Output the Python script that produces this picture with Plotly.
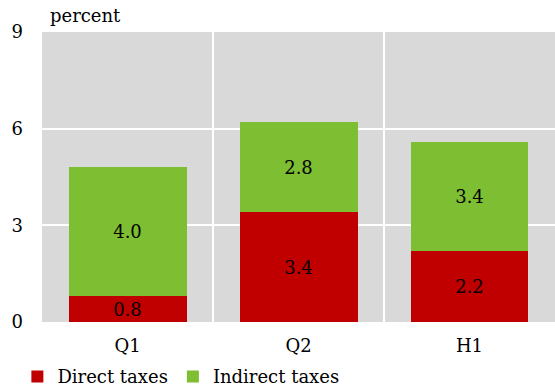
import plotly.graph_objects as go

categories = ["Q1", "Q2", "H1"]
direct = [0.8, 3.4, 2.2]
indirect = [4.0, 2.8, 3.4]
y_ticks = [0, 3, 6, 9]

FONT = "DejaVu Serif"
fig = go.Figure()
fig.add_trace(go.Bar(x=categories, y=direct, name="Direct taxes", marker_color="#C00000",
                     marker_line_width=0, text=[f"{v:.1f}" for v in direct],
                     textposition="inside", insidetextanchor="middle", constraintext="none",
                     textangle=0, textfont=dict(color="black", size=18, family=FONT)))
fig.add_trace(go.Bar(x=categories, y=indirect, name="Indirect taxes", marker_color="#7DBE32",
                     marker_line_width=0, text=[f"{v:.1f}" for v in indirect],
                     textposition="inside", insidetextanchor="middle", constraintext="none",
                     textangle=0, textfont=dict(color="black", size=18, family=FONT)))
fig.update_layout(
    barmode="stack", bargap=0.31,
    width=555, height=391,
    margin=dict(l=42, r=0, t=32, b=69, autoexpand=False),
    paper_bgcolor="white", plot_bgcolor="#D9D9D9",
    font=dict(family=FONT, size=18, color="black"),
    showlegend=True,
    legend=dict(orientation="h", traceorder="normal", x=-0.048, y=-0.125,
                xanchor="left", yanchor="top",
                font=dict(size=18), itemwidth=30, tracegroupgap=0),
    xaxis=dict(tickson="boundaries", showgrid=True, gridcolor="white", gridwidth=2,
               ticks="", showline=False, ticklabelstandoff=11),
    yaxis=dict(range=[0, 9], tickvals=y_ticks, showgrid=True, gridcolor="white", gridwidth=2,
               zeroline=False, ticklabelstandoff=18, showline=False),
)
fig.layout.annotations = [dict(text="percent", x=(48 - 42) / 513, y=1 + (32 - 16) / 290,
                               xref="paper", yref="paper", xanchor="left", yanchor="middle",
                               showarrow=False, font=dict(size=18))]
fig.write_html("out.html")
